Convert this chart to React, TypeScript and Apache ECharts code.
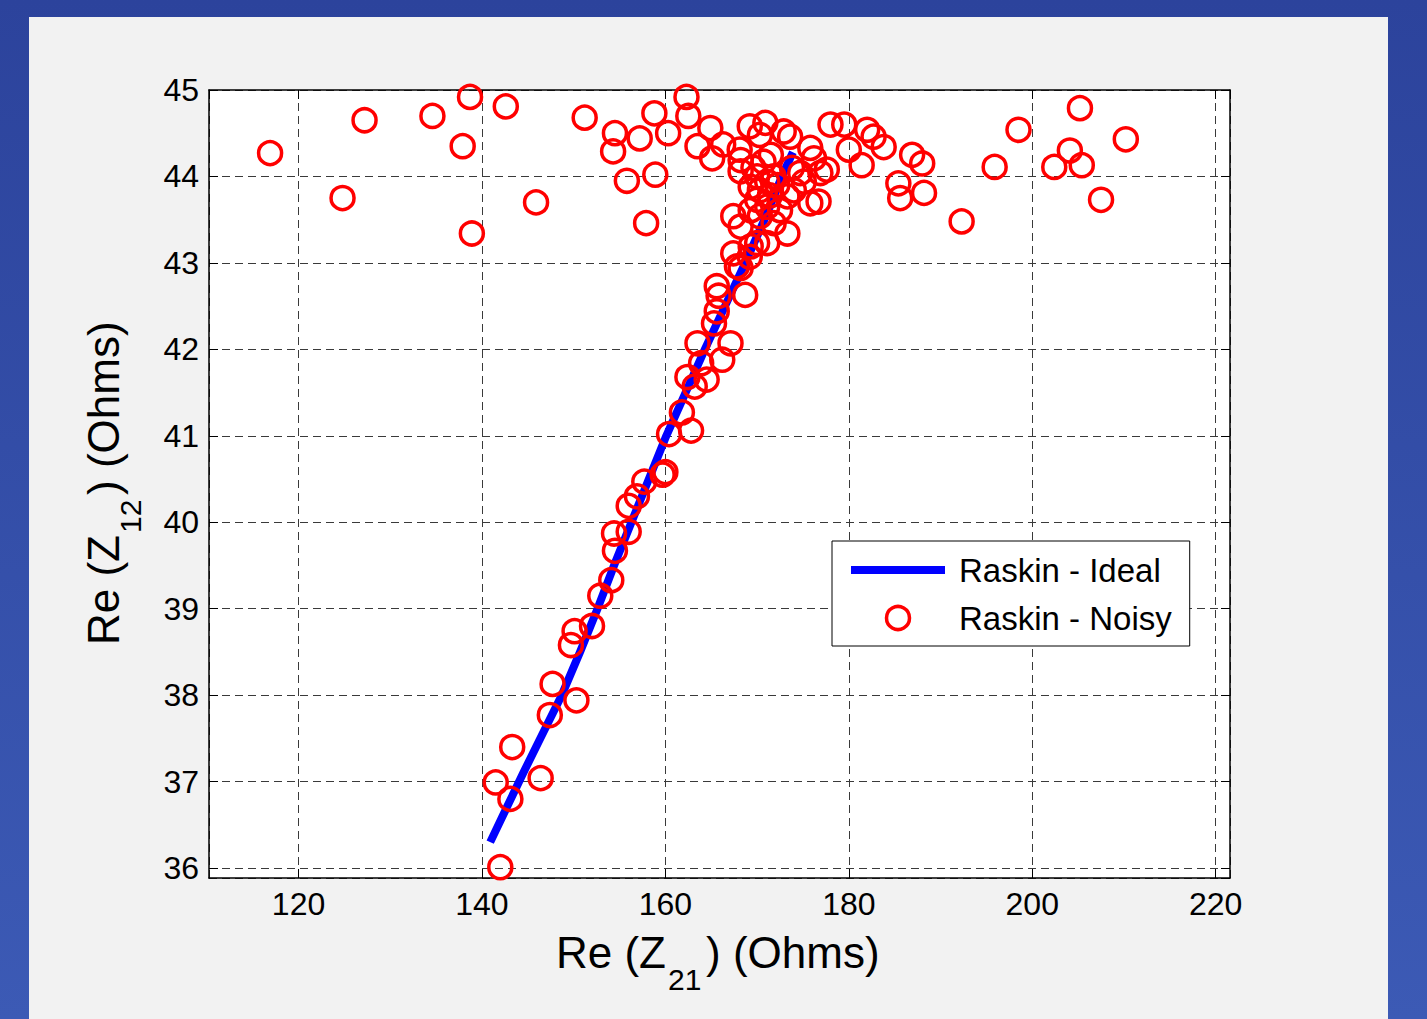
import { useEffect, useRef } from 'react';
import * as echarts from 'echarts';

const xTicks = [120, 140, 160, 180, 200, 220];
const yTicks = [36, 37, 38, 39, 40, 41, 42, 43, 44, 45];

const idealX = [140.9, 142.7, 144.5, 146.6, 148.7, 150.7, 152.6, 154.4, 156.3, 158.2, 160.1, 162.2, 164.3, 166.5, 168.7, 170.8, 172.7, 173.9];
const idealY = [36.3, 36.7, 37.1, 37.55, 38.0, 38.5, 39.0, 39.5, 40.0, 40.5, 41.0, 41.5, 42.0, 42.5, 43.0, 43.5, 44.0, 44.28];

const noisyX = [
  116.9, 124.8, 127.2, 134.6, 137.9, 138.7, 138.9, 142.6, 145.9, 151.2, 154.5, 154.3, 155.8, 157.2, 157.9, 158.8, 158.9, 160.3, 162.3, 162.5, 163.5, 164.9, 165.1, 166.3,
  178.0, 179.5, 180.0, 181.4, 182.0, 182.7, 183.8, 186.9, 188.0, 185.4, 185.6, 188.2, 192.3, 195.9, 198.5, 202.4, 204.1, 205.2, 205.4, 207.5, 210.2, 221.6,
  168.1, 169.2, 170.9, 170.3, 172.9, 173.6, 175.8, 176.2, 177.6, 176.9, 168.2, 168.2, 169.6, 170.7, 170.0, 171.1, 169.3, 170.3, 171.8, 174.7, 175.1, 174.0, 173.3, 175.8, 176.7, 172.5, 171.1, 170.0, 169.3, 170.3, 171.8, 173.3, 167.4, 168.2, 170.0, 171.1, 167.4, 169.2, 167.8, 169.3,
  171.5, 172.2, 173.8, 171.4,
  142.0, 141.5, 143.1, 143.3, 146.4, 147.4, 147.7, 150.3, 149.7, 150.1, 152.0, 152.9, 154.1, 154.5, 154.4, 156.0, 156.0, 156.9, 157.7, 159.7, 160.0, 160.4, 162.8, 161.8, 162.4, 163.2, 164.5, 163.9, 166.2, 163.5, 167.1, 165.3, 165.6, 165.8, 165.6, 168.7, 168.2,
];
const noisyY = [
  44.27, 43.75, 44.65, 44.70, 44.35, 44.92, 43.34, 44.81, 43.70, 44.68, 44.50, 44.29, 43.95, 44.44, 43.46, 44.73, 44.02, 44.50, 44.92, 44.70, 44.35, 44.56, 44.21, 44.37,
  44.60, 44.60, 44.31, 44.13, 44.54, 44.46, 44.34, 44.25, 44.15, 43.92, 43.75, 43.81, 43.48, 44.11, 44.54, 44.11, 44.30, 44.79, 44.13, 43.73, 44.43, 44.73,
  44.31, 44.58, 44.62, 44.48, 44.52, 44.46, 44.33, 44.21, 44.08, 44.04, 44.19, 44.06, 44.10, 44.17, 44.00, 43.94, 43.88, 43.84, 44.00, 44.04, 43.94, 43.84, 43.77, 43.69, 43.71, 43.61, 43.65, 43.73, 43.61, 43.54, 43.46, 43.34, 43.54, 43.42, 43.23, 43.23, 43.11, 43.07, 42.96, 43.19,
  44.25, 43.90, 44.10, 43.78,
  36.01, 36.99, 36.80, 37.40, 37.04, 37.77, 38.13, 37.94, 38.58, 38.74, 38.80, 39.15, 39.33, 39.67, 39.87, 39.89, 40.19, 40.30, 40.47, 40.55, 40.58, 41.02, 41.06, 41.27, 41.68, 41.57, 41.65, 41.84, 41.88, 42.07, 42.07, 42.30, 42.44, 42.62, 42.73, 42.63, 42.94,
];

const xMin = 110.24;
const xMax = 221.56;
const yMin = 35.885;
const yMax = 45;

const FONT = '"Liberation Sans", Arial, Helvetica, sans-serif';

export default function App() {
  const ref = useRef<HTMLDivElement>(null);
  useEffect(() => {
    const chart = echarts.init(ref.current as HTMLDivElement, null, { renderer: 'svg' });
    const fmtX = (v: number) => (xTicks.some((t) => Math.abs(t - v) < 1e-6) ? String(Math.round(v)) : '');
    const fmtY = (v: number) => (yTicks.some((t) => Math.abs(t - v) < 1e-6) ? String(Math.round(v)) : '');
    const axisLine = { show: true, lineStyle: { color: '#000', width: 1.5 } };
    const tick = { show: true, inside: true, length: 9, lineStyle: { color: '#000', width: 1 } };
    const split = { show: true, lineStyle: { color: '#3a3a3a', width: 1, type: [8, 5] as any } };

    const ideal = idealX.map((x, i) => [x, idealY[i]]);
    const noisy = noisyX.map((x, i) => [x, noisyY[i]]);

    const gridL = 209;
    const gridR = 197;
    const gridT = 90;
    const gridB = 141;

    const mainSize = 44;
    const subSize = 30;
    const textStyle = (text: string, x: number, y: number, size: number, align: string) => ({
      type: 'text',
      x,
      y,
      style: { text, fontSize: size, fontFamily: FONT, fill: '#000', align, verticalAlign: 'middle' },
    });

    chart.setOption({
      animation: false,
      backgroundColor: 'transparent',
      graphic: [
        {
          type: 'group',
          children: [
            textStyle('Re (Z', 556, 952, mainSize, 'left'),
            textStyle('21', 668, 979, subSize, 'left'),
            textStyle(') (Ohms)', 706, 952, mainSize, 'left'),
          ],
        },
        {
          type: 'group',
          children: [
            { ...textStyle('Re (Z', 103, 645, mainSize, 'left'), rotation: Math.PI / 2 },
            { ...textStyle('12', 130, 533, subSize, 'left'), rotation: Math.PI / 2 },
            { ...textStyle(') (Ohms)', 103, 495, mainSize, 'left'), rotation: Math.PI / 2 },
          ],
        },
      ],
      grid: {
        left: gridL,
        right: gridR,
        top: gridT,
        bottom: gridB,
        show: true,
        backgroundColor: '#ffffff',
        borderWidth: 0,
      },
      legend: {
        orient: 'vertical',
        left: 832,
        top: 541,
        backgroundColor: '#ffffff',
        borderColor: '#000',
        borderWidth: 1,
        borderRadius: 0,
        padding: [11, 18, 10, 15],
        itemWidth: 94,
        itemHeight: 23,
        itemGap: 12,
        textStyle: { fontSize: 33, fontFamily: FONT, color: '#000', lineHeight: 36, padding: [0, 0, 0, 9] },
        data: [
          { name: 'Raskin - Ideal', itemStyle: { opacity: 0 }, lineStyle: { color: '#0000ff', width: 8 } },
          { name: 'Raskin - Noisy', itemStyle: { color: 'transparent', borderColor: '#ff0000', borderWidth: 3.5 } },
        ],
      },
      xAxis: [
        {
          type: 'value',
          min: xMin,
          max: xMax,
          minInterval: 20,
          maxInterval: 20,
          splitNumber: 5,
          axisLine,
          axisTick: tick,
          splitLine: split,
          axisLabel: { show: true, formatter: fmtX, showMinLabel: false, showMaxLabel: false, fontSize: 32, fontFamily: FONT, color: '#000', margin: 10 },
        },
        {
          type: 'value',
          position: 'top',
          min: xMin,
          max: xMax,
          minInterval: 20,
          maxInterval: 20,
          splitNumber: 5,
          axisLine,
          axisTick: tick,
          splitLine: { show: false },
          axisLabel: { show: false },
        },
      ],
      yAxis: [
        {
          type: 'value',
          min: yMin,
          max: yMax,
          minInterval: 1,
          maxInterval: 1,
          splitNumber: 9,
          axisLine,
          axisTick: tick,
          splitLine: split,
          axisLabel: { show: true, formatter: fmtY, showMinLabel: false, fontSize: 32, fontFamily: FONT, color: '#000', margin: 10 },
        },
        {
          type: 'value',
          position: 'right',
          min: yMin,
          max: yMax,
          minInterval: 1,
          maxInterval: 1,
          splitNumber: 9,
          axisLine,
          axisTick: tick,
          splitLine: { show: false },
          axisLabel: { show: false },
        },
      ],
      series: [
        {
          name: 'Raskin - Ideal',
          type: 'line',
          xAxisIndex: 0,
          yAxisIndex: 0,
          data: ideal,
          symbol: 'none',
          showSymbol: false,
          smooth: false,
          lineStyle: { color: '#0000ff', width: 8, cap: 'butt', join: 'round' },
          itemStyle: { color: '#0000ff' },
          z: 2,
        },
        {
          name: 'Raskin - Noisy',
          type: 'scatter',
          xAxisIndex: 0,
          yAxisIndex: 0,
          data: noisy,
          symbol: 'circle',
          symbolSize: 23,
          itemStyle: { color: 'transparent', borderColor: '#ff0000', borderWidth: 3.5, opacity: 1 },
          z: 3,
        },
      ],
    });
    return () => chart.dispose();
  }, []);
  return (
    <div
      style={{
        position: 'fixed',
        left: 0,
        top: 0,
        width: 1427,
        height: 1019,
        background: 'linear-gradient(to bottom, #2c439c, #3c5ab5)',
        overflow: 'hidden',
      }}
    >
      <div style={{ position: 'absolute', left: 29, top: 17, width: 1359, height: 1002, background: '#f2f2f2' }} />
      <div ref={ref} style={{ position: 'absolute', left: 0, top: 0, width: 1427, height: 1019 }} />
    </div>
  );
}
